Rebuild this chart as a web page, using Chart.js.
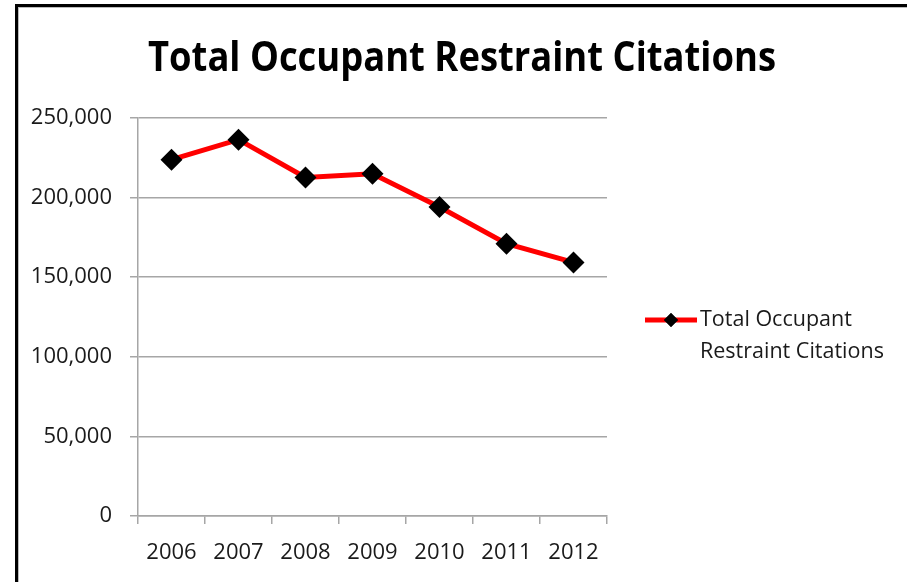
<!DOCTYPE html>
<html>
<head>
<meta charset="utf-8">
<title>Total Occupant Restraint Citations</title>
<script src="https://cdn.jsdelivr.net/npm/chart.js@4"></script>
<style>
    html, body { margin: 0; padding: 0; background: #fff; overflow: hidden; }
    .frame {
        position: absolute; left: 15px; top: 4px; width: 900px; height: 600px;
        border-left: 3px solid #000; border-top: 3px solid #000;
        box-shadow: inset 1px 1px 0 #bbb;
    }
    #chart { position: absolute; left: 0; top: 0; }
</style>
</head>
<body>
<div class="frame"></div>
<canvas id="chart" width="907" height="582"></canvas>
<script>
// Chart data
const chartTitle = "Total Occupant Restraint Citations";
const years = ["2006", "2007", "2008", "2009", "2010", "2011", "2012"];
const citations = [223800, 236400, 212700, 215000, 194100, 171000, 159300];
const seriesLabel = ["Total Occupant", "Restraint Citations"];
const yMin = 0, yMax = 250000, yStep = 50000;

const textFont = "'Open Sans', 'Noto Sans', sans-serif";

// Title drawn by hand so it can be squeezed like the original
const titlePlugin = {
    id: 'titleText',
    afterDraw(chart) {
        let ctx = chart.ctx;
        ctx.save();
        ctx.font = "bold 42px " + textFont;
        ctx.fillStyle = "#000";
        ctx.textBaseline = "alphabetic";
        let w = ctx.measureText(chartTitle).width;
        let sx = 628 / w;
        ctx.translate(462, 71);
        ctx.scale(sx, 1);
        ctx.textAlign = "center";
        ctx.fillText(chartTitle, 0, 0);
        ctx.restore();
    }
};

// Legend on the right with a wrapped label
const legendPlugin = {
    id: 'sideLegend',
    afterDraw(chart) {
        let ctx = chart.ctx;
        let ds = chart.data.datasets[0];
        let y = 320;
        ctx.save();
        ctx.strokeStyle = ds.borderColor;
        ctx.lineWidth = ds.borderWidth;
        ctx.beginPath();
        ctx.moveTo(645, y);
        ctx.lineTo(697, y);
        ctx.stroke();
        Chart.helpers.drawPoint(ctx, { pointStyle: 'rectRot', radius: 7, borderWidth: 0 }, 671, y);
        ctx.fillStyle = "#000";
        ctx.fill();
        ctx.font = "21.5px " + textFont;
        ctx.fillStyle = "#1a1a1a";
        ctx.textAlign = "left";
        ctx.textBaseline = "middle";
        seriesLabel.forEach(function(line, i) {
            ctx.fillText(line, 700, y + i * 32);
        });
        ctx.restore();
    }
};

let ctx = document.getElementById('chart').getContext('2d');
new Chart(ctx, {
    type: 'line',
    data: {
        labels: years,
        datasets: [{
            label: seriesLabel.join(" "),
            data: citations,
            borderColor: "#ff0000",
            borderWidth: 5,
            pointStyle: 'rectRot',
            pointRadius: 11,
            pointBackgroundColor: "#000",
            pointBorderColor: "#000",
            pointBorderWidth: 0,
            tension: 0
        }]
    },
    options: {
        responsive: false,
        animation: false,
        layout: { padding: { top: 118, right: 300, bottom: 0, left: 0 } },
        plugins: {
            legend: { display: false },
            title: { display: false },
            tooltip: { enabled: false }
        },
        scales: {
            x: {
                offset: true,
                grid: { offset: true, drawOnChartArea: false, color: "#a6a6a6", lineWidth: 1.5, tickLength: 8 },
                border: { color: "#a6a6a6", width: 1.5 },
                ticks: { color: "#1a1a1a", padding: 16, font: { family: textFont, size: 22 } },
                afterFit(scale) { scale.height = 66; }
            },
            y: {
                min: yMin,
                max: yMax,
                grid: { color: "#a6a6a6", lineWidth: 1.5, tickLength: 8 },
                border: { color: "#a6a6a6", width: 1.5 },
                ticks: { stepSize: yStep, color: "#1a1a1a", padding: 18, font: { family: textFont, size: 22 } },
                afterFit(scale) { scale.width = 138; }
            }
        }
    },
    plugins: [titlePlugin, legendPlugin]
});
</script>
</body>
</html>
